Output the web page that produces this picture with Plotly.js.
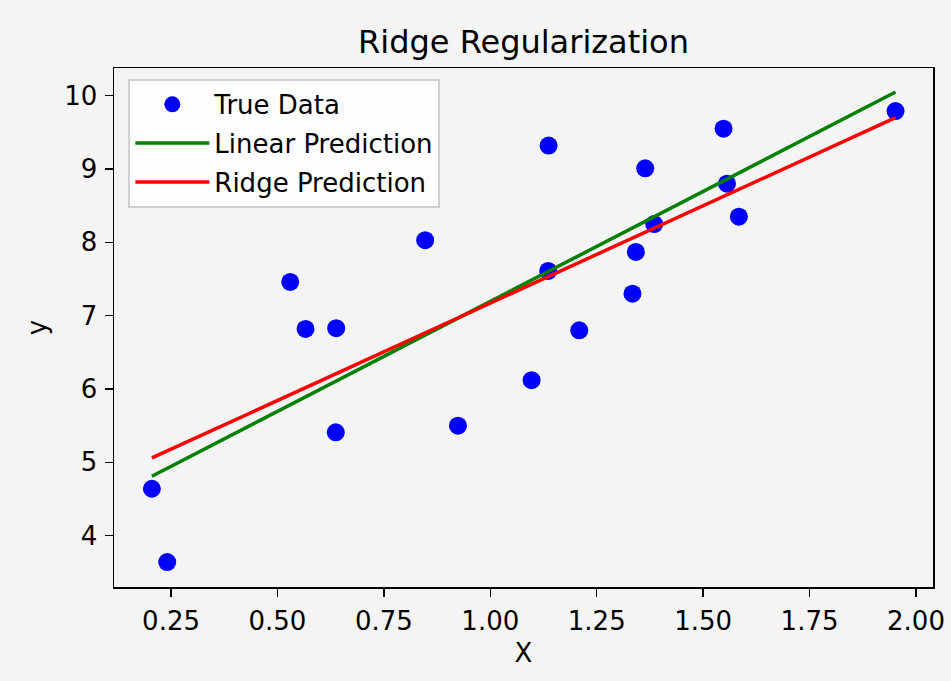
<!DOCTYPE html>
<html>
<head>
<meta charset="utf-8">
<script src="https://cdn.plot.ly/plotly-3.0.1.min.js"></script>
<style>html,body{margin:0;padding:0;background:#f4f4f4;}#chart{width:951px;height:681px;}</style>
</head>
<body>
<div id="chart"></div>
<script>
// True data points
const dataX = [0.205, 0.241, 0.530, 0.566, 0.638, 0.637, 0.847, 0.924, 1.097, 1.137, 1.136, 1.209, 1.334, 1.342, 1.364, 1.385, 1.548, 1.556, 1.584, 1.952];
const dataY = [4.64, 3.64, 7.46, 6.82, 6.83, 5.41, 8.03, 5.50, 6.12, 9.32, 7.61, 6.80, 7.30, 7.87, 9.01, 8.25, 9.55, 8.80, 8.35, 9.79];
// Prediction lines (endpoints at min / max X)
const predX = [0.205, 1.952];
const linearY = [4.81, 10.05];
const ridgeY = [5.06, 9.70];

const fontFam = 'DejaVu Sans, sans-serif';
const traces = [
  {x: dataX, y: dataY, type: 'scatter', mode: 'markers', name: 'True Data', legendgroup: 'a',
   marker: {color: 'blue', size: 18, line: {width: 0}}},
  {x: predX, y: linearY, type: 'scatter', mode: 'lines', name: 'Linear Prediction', legendgroup: 'b',
   line: {color: 'green', width: 3.5}},
  {x: predX, y: ridgeY, type: 'scatter', mode: 'lines', name: 'Ridge Prediction', legendgroup: 'c',
   line: {color: 'red', width: 3.5}}
];
const axisCommon = {
  showgrid: false, zeroline: false, showline: true, linecolor: 'black', linewidth: 1.5,
  mirror: true, ticks: 'outside', ticklen: 8, tickwidth: 1.5, tickcolor: 'black',
  tickfont: {family: fontFam, size: 26, color: 'black'}
};
const layout = {
  width: 951, height: 681,
  paper_bgcolor: '#f4f4f4', plot_bgcolor: '#f4f4f4',
  margin: {l: 114, r: 18, t: 68, b: 94},
  title: {text: 'Ridge Regularization', font: {family: fontFam, size: 32, color: 'black'},
          x: 0.5, xref: 'paper', xanchor: 'center', y: 1, yref: 'paper', yanchor: 'bottom', pad: {b: 15}},
  xaxis: Object.assign({}, axisCommon, {
    range: [0.116, 2.040], tickvals: [0.25, 0.5, 0.75, 1.0, 1.25, 1.5, 1.75, 2.0],
    ticktext: ['0.25', '0.50', '0.75', '1.00', '1.25', '1.50', '1.75', '2.00'],
    ticklabelstandoff: 2,
    title: {text: 'X', font: {family: fontFam, size: 26, color: 'black'}, standoff: 9}
  }),
  yaxis: Object.assign({}, axisCommon, {
    range: [3.30, 10.378], tickvals: [4, 5, 6, 7, 8, 9, 10],
    ticklabelstandoff: 2,
    title: {text: 'y', font: {family: fontFam, size: 26, color: 'black'}, standoff: 10}
  }),
  legend: {x: 0.0175, y: 0.979, xanchor: 'left', yanchor: 'top',
           bgcolor: 'rgba(255,255,255,0.8)', bordercolor: '#d0d0d0', borderwidth: 2,
           font: {family: fontFam, size: 26, color: 'black'}, itemwidth: 74, tracegroupgap: 2},
  showlegend: true
};
Plotly.newPlot('chart', traces, layout, {displayModeBar: false, staticPlot: true});
</script>
</body>
</html>
